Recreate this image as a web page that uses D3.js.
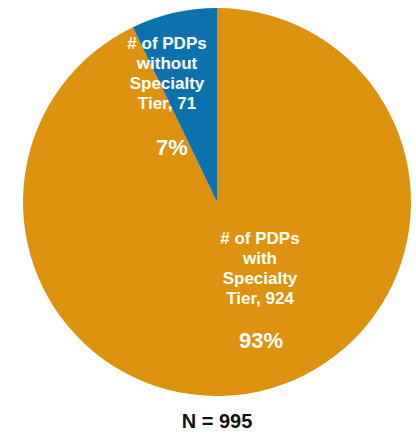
<!DOCTYPE html>
<html>
<head>
<meta charset="utf-8">
<script src="https://cdn.jsdelivr.net/npm/d3@7"></script>
<style>
  html, body { margin: 0; padding: 0; background: #ffffff; }
  svg { display: block; }
  text { font-family: "Liberation Sans", Arial, sans-serif; font-weight: bold; }
</style>
</head>
<body>
<svg id="chart" width="416" height="435"></svg>
<script>
// Plan counts by specialty-tier status
const categories = ["# of PDPs with Specialty Tier", "# of PDPs without Specialty Tier"];
const labelLines = [
  ["# of PDPs", "with", "Specialty", "Tier, 924"],
  ["# of PDPs", "without", "Specialty", "Tier, 71"]
];
const counts = [924, 71];
const colors = ["#DC920E", "#0C72AE"];
const total = 995;

const width = 416, height = 435;
const cx = 217, cy = 202, radius = 194;

const svg = d3.select("#chart");
const g = svg.append("g").attr("transform", `translate(${cx},${cy})`);

const pie = d3.pie().sort(null).value(d => d);
const arcs = pie(counts);
const arc = d3.arc().innerRadius(0).outerRadius(radius);

g.selectAll("path.slice")
  .data(arcs)
  .join("path")
  .attr("class", "slice")
  .attr("d", arc)
  .attr("fill", (d, i) => colors[i]);

// Label anchor offsets (relative to pie centre) for each slice's text block
const labelAnchors = [
  { x: 43, y: 238 - cy, pctX: 44, pctY: 340 - cy },
  { x: -50, y: 43 - cy, pctX: -45, pctY: 147 - cy }
];
const lineH = 20;

arcs.forEach((a, i) => {
  const anc = labelAnchors[i];
  const t = g.append("text")
    .attr("text-anchor", "middle")
    .attr("fill", "#ffffff")
    .attr("font-size", 17);
  labelLines[i].forEach((ln, j) => {
    t.append("tspan")
      .attr("x", anc.x)
      .attr("y", anc.y + j * lineH)
      .attr("dy", "0.35em")
      .text(ln);
  });
  const pct = Math.round(counts[i] / d3.sum(counts) * 100) + "%";
  g.append("text")
    .attr("text-anchor", "middle")
    .attr("fill", "#ffffff")
    .attr("font-size", 22)
    .attr("x", anc.pctX)
    .attr("y", anc.pctY)
    .attr("dy", "0.35em")
    .text(pct);
});

svg.append("text")
  .attr("x", cx)
  .attr("y", 421)
  .attr("dy", "0.35em")
  .attr("text-anchor", "middle")
  .attr("fill", "#111111")
  .attr("font-size", 20)
  .text("N = " + total);
</script>
</body>
</html>
